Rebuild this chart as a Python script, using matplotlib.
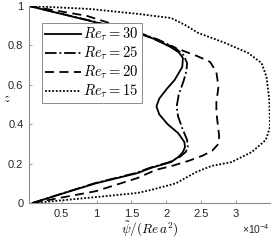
import numpy as np
import matplotlib
matplotlib.use("Agg")
import matplotlib.pyplot as plt

plt.rcParams["font.family"] = "Liberation Sans"
plt.rcParams["mathtext.fontset"] = "cm"

# profiles, psi in units of 1e-4, z from 0 to 1
z_30 = [0, 0.05, 0.10, 0.152, 0.178, 0.208, 0.235, 0.259, 0.284, 0.31, 0.355,
        0.40, 0.45, 0.49, 0.53, 0.58, 0.624, 0.69, 0.736, 0.765, 0.79, 0.83,
        0.863, 0.924, 1.0]
psi_30 = [0.08, 0.53, 0.99, 1.59, 1.78, 2.07, 2.18, 2.24, 2.27, 2.26, 2.17,
          2.02, 1.90, 1.86, 1.90, 2.01, 2.12, 2.23, 2.24, 2.18, 2.07, 1.85,
          1.59, 0.91, 0.03]

z_25 = [0, 0.05, 0.10, 0.152, 0.178, 0.208, 0.235, 0.259, 0.284, 0.32, 0.38,
        0.44, 0.49, 0.55, 0.62, 0.67, 0.71, 0.75, 0.79, 0.83, 0.863, 0.924, 1.0]
psi_25 = [0.08, 0.52, 0.97, 1.56, 1.76, 2.05, 2.20, 2.28, 2.31, 2.30, 2.23,
          2.17, 2.15, 2.18, 2.25, 2.29, 2.30, 2.25, 2.12, 1.88, 1.62, 0.93, 0.03]

z_20 = [0, 0.06, 0.127, 0.168, 0.19, 0.215, 0.24, 0.265, 0.30, 0.34, 0.40,
        0.46, 0.51, 0.59, 0.665, 0.716, 0.745, 0.777, 0.82, 0.868, 0.95, 1.0]
psi_20 = [0.08, 0.99, 1.59, 1.85, 2.10, 2.33, 2.52, 2.66, 2.75, 2.76, 2.74,
          2.72, 2.72, 2.75, 2.72, 2.63, 2.45, 2.21, 1.90, 1.59, 0.86, 0.03]

z_15 = [0, 0.03, 0.051, 0.066, 0.10, 0.157, 0.188, 0.208, 0.259, 0.32, 0.386,
        0.523, 0.64, 0.71, 0.761, 0.812, 0.863, 0.904, 0.939, 0.96, 0.985, 1.0]
psi_15 = [0.10, 0.99, 1.59, 1.78, 2.14, 2.43, 2.65, 2.94, 3.23, 3.43, 3.49,
          3.48, 3.44, 3.37, 3.18, 2.85, 2.46, 2.27, 2.07, 1.59, 0.90, 0.03]

labels = [r"$Re_\tau = 30$", r"$Re_\tau = 25$", r"$Re_\tau = 20$", r"$Re_\tau = 15$"]
xticks = [0.5, 1, 1.5, 2, 2.5, 3]
xticklabels = ["0.5", "1", "1.5", "2", "2.5", "3"]
yticks = [0, 0.2, 0.4, 0.6, 0.8, 1]
yticklabels = ["0", "0.2", "0.4", "0.6", "0.8", "1"]

fig = plt.figure(figsize=(2.74, 2.41), dpi=100)
ax = fig.add_axes([29 / 274, 1 - 203 / 241, 241 / 274, 197 / 241])

ax.plot(psi_30, z_30, color="black", lw=1.3, ls="-", label=labels[0])
ax.plot(psi_25, z_25, color="black", lw=1.3, ls="-.", label=labels[1])
ax.plot(psi_20, z_20, color="black", lw=1.3, ls=(0, (5, 3)), label=labels[2])
ax.plot(psi_15, z_15, color="black", lw=1.3, ls=(0, (1, 1)), label=labels[3])

ax.set_xlim(0.03, 3.49)
ax.set_ylim(0, 1)
ax.set_xticks(xticks)
ax.set_xticklabels(xticklabels)
ax.set_yticks(yticks)
ax.set_yticklabels(yticklabels)

for s in ["top", "right"]:
    ax.spines[s].set_visible(False)
for s in ["left", "bottom"]:
    ax.spines[s].set_color("#8c8c8c")
    ax.spines[s].set_linewidth(0.8)
ax.tick_params(direction="in", length=2.5, width=0.6, color="#8c8c8c",
               labelsize=8, labelcolor="#262626", pad=4)

ax.set_xlabel(r"$\tilde{\psi}/(Re\, a^2)$", fontsize=9.5, labelpad=1)
ax.set_ylabel(r"$z$", fontsize=9, rotation=0)
ax.yaxis.set_label_coords(-0.09, 0.5)
ax.text(1.0, -0.135, r"$\mathregular{\times10^{-4}}$", transform=ax.transAxes,
        ha="right", va="center", fontsize=7.5, color="#262626")

leg = ax.legend(loc="upper left", bbox_to_anchor=(0.054, 0.914), borderaxespad=0,
                fontsize=10.5, handlelength=2.5, handletextpad=0.1,
                labelspacing=0.1, borderpad=0.2, fancybox=False, framealpha=1)
leg.get_frame().set_edgecolor("#8c8c8c")
leg.get_frame().set_linewidth(0.7)

fig.savefig("out.png", dpi=100)
